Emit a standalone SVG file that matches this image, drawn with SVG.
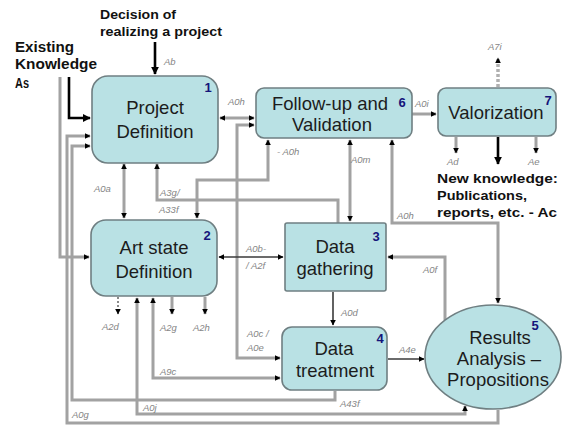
<svg xmlns="http://www.w3.org/2000/svg" width="563" height="427" viewBox="0 0 563 427">
  <style>
    .node { fill: #b9e1e4; stroke: #6f7f82; stroke-width: 1.6; }
    .title { font-family: "Liberation Sans", Arial, sans-serif; font-size: 18.5px; fill: #1c1c1c; text-anchor: middle; }
    .num { font-family: "Liberation Sans", Arial, sans-serif; font-size: 13px; font-weight: bold; fill: #14147a; text-anchor: middle; }
    .ext { font-family: "Liberation Sans", Arial, sans-serif; font-size: 12.5px; font-weight: bold; fill: #111; }
    .big { font-size: 14.5px; }
    .lbl { font-family: "Liberation Sans", Arial, sans-serif; font-size: 9.5px; font-style: italic; fill: #858585; }
    .g { fill: none; stroke: #a2a2a2; stroke-width: 3; }
    .d { fill: none; stroke: #3a3a3a; stroke-width: 1.6; }
    .k { fill: none; stroke: #000; stroke-width: 2.6; }
    .dot { fill: none; stroke: #8a8a8a; stroke-width: 2; stroke-dasharray: 2 2; }
    .dash { fill: none; stroke: #b0b0b0; stroke-width: 3.5; stroke-dasharray: 3 2; }
  </style>
  <defs>
    <marker id="ah" viewBox="0 0 10 10" refX="9" refY="5" markerWidth="6" markerHeight="6" markerUnits="userSpaceOnUse" orient="auto-start-reverse">
      <path d="M0,0 L10,5 L0,10 z" fill="#000"/>
    </marker>
    <marker id="ahb" viewBox="0 0 10 10" refX="9" refY="5" markerWidth="8" markerHeight="8" markerUnits="userSpaceOnUse" orient="auto-start-reverse">
      <path d="M0,0 L10,5 L0,10 z" fill="#000"/>
    </marker>
  </defs>

  <!-- external inputs and outputs -->
  <g id="inputs">
    <text class="ext" x="100" y="19" textLength="76" lengthAdjust="spacingAndGlyphs">Decision of</text>
    <text class="ext" x="100" y="36" textLength="122" lengthAdjust="spacingAndGlyphs">realizing a project</text>
    <text class="ext big" x="15" y="52" textLength="59" lengthAdjust="spacingAndGlyphs">Existing</text>
    <text class="ext big" x="15" y="69" textLength="82" lengthAdjust="spacingAndGlyphs">Knowledge</text>
    <text class="ext big" x="15" y="88" textLength="14" lengthAdjust="spacingAndGlyphs">As</text>
    <text class="ext" x="437" y="183" textLength="121" lengthAdjust="spacingAndGlyphs">New knowledge:</text>
    <text class="ext" x="437" y="200" textLength="90" lengthAdjust="spacingAndGlyphs">Publications,</text>
    <text class="ext" x="437" y="217" textLength="120" lengthAdjust="spacingAndGlyphs">reports, etc. - Ac</text>
  </g>

  <!-- connectors -->
  <g id="connectors">
    <path class="k" d="M155,42 V74" marker-end="url(#ahb)"/>
    <path class="k" d="M69,77 V118 H90" marker-end="url(#ahb)"/>
    <path class="k" d="M498,137 V164" marker-end="url(#ahb)"/>

    <path class="g" d="M60,77 V257 H89" marker-end="url(#ah)"/>
    <path class="g" d="M498,410 V423 H67 V136 H90" marker-end="url(#ah)"/>
    <path class="g" d="M335,391 V400 H72 V146 H90" marker-end="url(#ah)"/>
    <path class="g" d="M137,298 V414 H465 V406" marker-start="url(#ah)" marker-end="url(#ah)"/>
    <path class="g" d="M124,164 V218" marker-start="url(#ah)" marker-end="url(#ah)"/>
    <path class="g" d="M338,223 V200 H157 V164" marker-end="url(#ah)"/>
    <path class="g" d="M268,140 V180 H197 V218" marker-start="url(#ah)" marker-end="url(#ah)"/>
    <path class="g" d="M220,118 H254" marker-start="url(#ah)" marker-end="url(#ah)"/>
    <path class="g" d="M254,125 H237 V358 H280" marker-start="url(#ah)" marker-end="url(#ah)"/>
    <path class="g" d="M350,140 V221" marker-start="url(#ah)" marker-end="url(#ah)"/>
    <path class="g" d="M392,140 V223 H498 V303" marker-start="url(#ah)" marker-end="url(#ah)"/>
    <path class="g" d="M445,320 V257 H388" marker-end="url(#ah)"/>
    <path class="g" d="M412,114 H436" marker-end="url(#ah)"/>
    <path class="g" d="M153,298 V378 H280" marker-start="url(#ah)" marker-end="url(#ah)"/>
    <path class="g" d="M172,297 V314" marker-end="url(#ah)"/>
    <path class="g" d="M205,297 V314" marker-end="url(#ah)"/>
    <path class="g" d="M456,137 V153" marker-end="url(#ah)"/>
    <path class="g" d="M536,137 V153" marker-end="url(#ah)"/>
    <path class="d" d="M333,292 V325" marker-end="url(#ah)"/>
    <path class="d" d="M388,359 H424" marker-end="url(#ah)"/>
    <path class="d" d="M219,257 H283" marker-start="url(#ah)" marker-end="url(#ah)"/>
    <path class="dot" d="M118,297 V314" marker-end="url(#ah)"/>
    <path class="dash" d="M498,87 V58" marker-end="url(#ah)"/>

    <text class="lbl" x="164" y="65">Ab</text>
    <text class="lbl" x="228" y="105">A0h</text>
    <text class="lbl" x="415" y="107">A0i</text>
    <text class="lbl" x="488" y="50">A7i</text>
    <text class="lbl" x="277" y="155">- A0h</text>
    <text class="lbl" x="351" y="163">A0m</text>
    <text class="lbl" x="397" y="219">A0h</text>
    <text class="lbl" x="94" y="192">A0a</text>
    <text class="lbl" x="160" y="196">A3g/</text>
    <text class="lbl" x="159" y="213">A33f</text>
    <text class="lbl" x="246" y="252">A0b-</text>
    <text class="lbl" x="246" y="269">/ A2f</text>
    <text class="lbl" x="423" y="273">A0f</text>
    <text class="lbl" x="341" y="316">A0d</text>
    <text class="lbl" x="399" y="353">A4e</text>
    <text class="lbl" x="247" y="337">A0c /</text>
    <text class="lbl" x="247" y="351">A0e</text>
    <text class="lbl" x="102" y="330">A2d</text>
    <text class="lbl" x="160" y="331">A2g</text>
    <text class="lbl" x="193" y="331">A2h</text>
    <text class="lbl" x="160" y="375">A9c</text>
    <text class="lbl" x="143" y="411">A0j</text>
    <text class="lbl" x="72" y="418">A0g</text>
    <text class="lbl" x="340" y="407">A43f</text>
    <text class="lbl" x="447" y="165">Ad</text>
    <text class="lbl" x="528" y="165">Ae</text>
  </g>

  <!-- process nodes -->
  <g id="n1">
    <rect class="node" x="92" y="76" width="126" height="87" rx="16"/>
    <text class="title" x="155" y="114">Project</text>
    <text class="title" x="155" y="138">Definition</text>
    <text class="num" x="208" y="92">1</text>
  </g>
  <g id="n2">
    <rect class="node" x="91" y="220" width="126" height="76" rx="15"/>
    <text class="title" x="154" y="254">Art state</text>
    <text class="title" x="154" y="278">Definition</text>
    <text class="num" x="207" y="240">2</text>
  </g>
  <g id="n3">
    <rect class="node" x="285" y="223" width="101" height="68" rx="2"/>
    <text class="title" x="335" y="253">Data</text>
    <text class="title" x="335" y="275">gathering</text>
    <text class="num" x="376" y="241">3</text>
  </g>
  <g id="n4">
    <rect class="node" x="282" y="327" width="105" height="63" rx="10"/>
    <text class="title" x="334" y="355">Data</text>
    <text class="title" x="335" y="377">treatment</text>
    <text class="num" x="380" y="343">4</text>
  </g>
  <g id="n5">
    <ellipse class="node" cx="493" cy="357" rx="68" ry="52"/>
    <text class="title" x="500" y="344">Results</text>
    <text class="title" x="499" y="365">Analysis –</text>
    <text class="title" x="498" y="386">Propositions</text>
    <text class="num" x="535" y="330">5</text>
  </g>
  <g id="n6">
    <rect class="node" x="256" y="88" width="156" height="50" rx="8"/>
    <text class="title" x="330" y="110">Follow-up and</text>
    <text class="title" x="332" y="131">Validation</text>
    <text class="num" x="402" y="107">6</text>
  </g>
  <g id="n7">
    <rect class="node" x="438" y="88" width="118" height="48" rx="8"/>
    <text class="title" x="496" y="119">Valorization</text>
    <text class="num" x="548" y="105">7</text>
  </g>
</svg>
